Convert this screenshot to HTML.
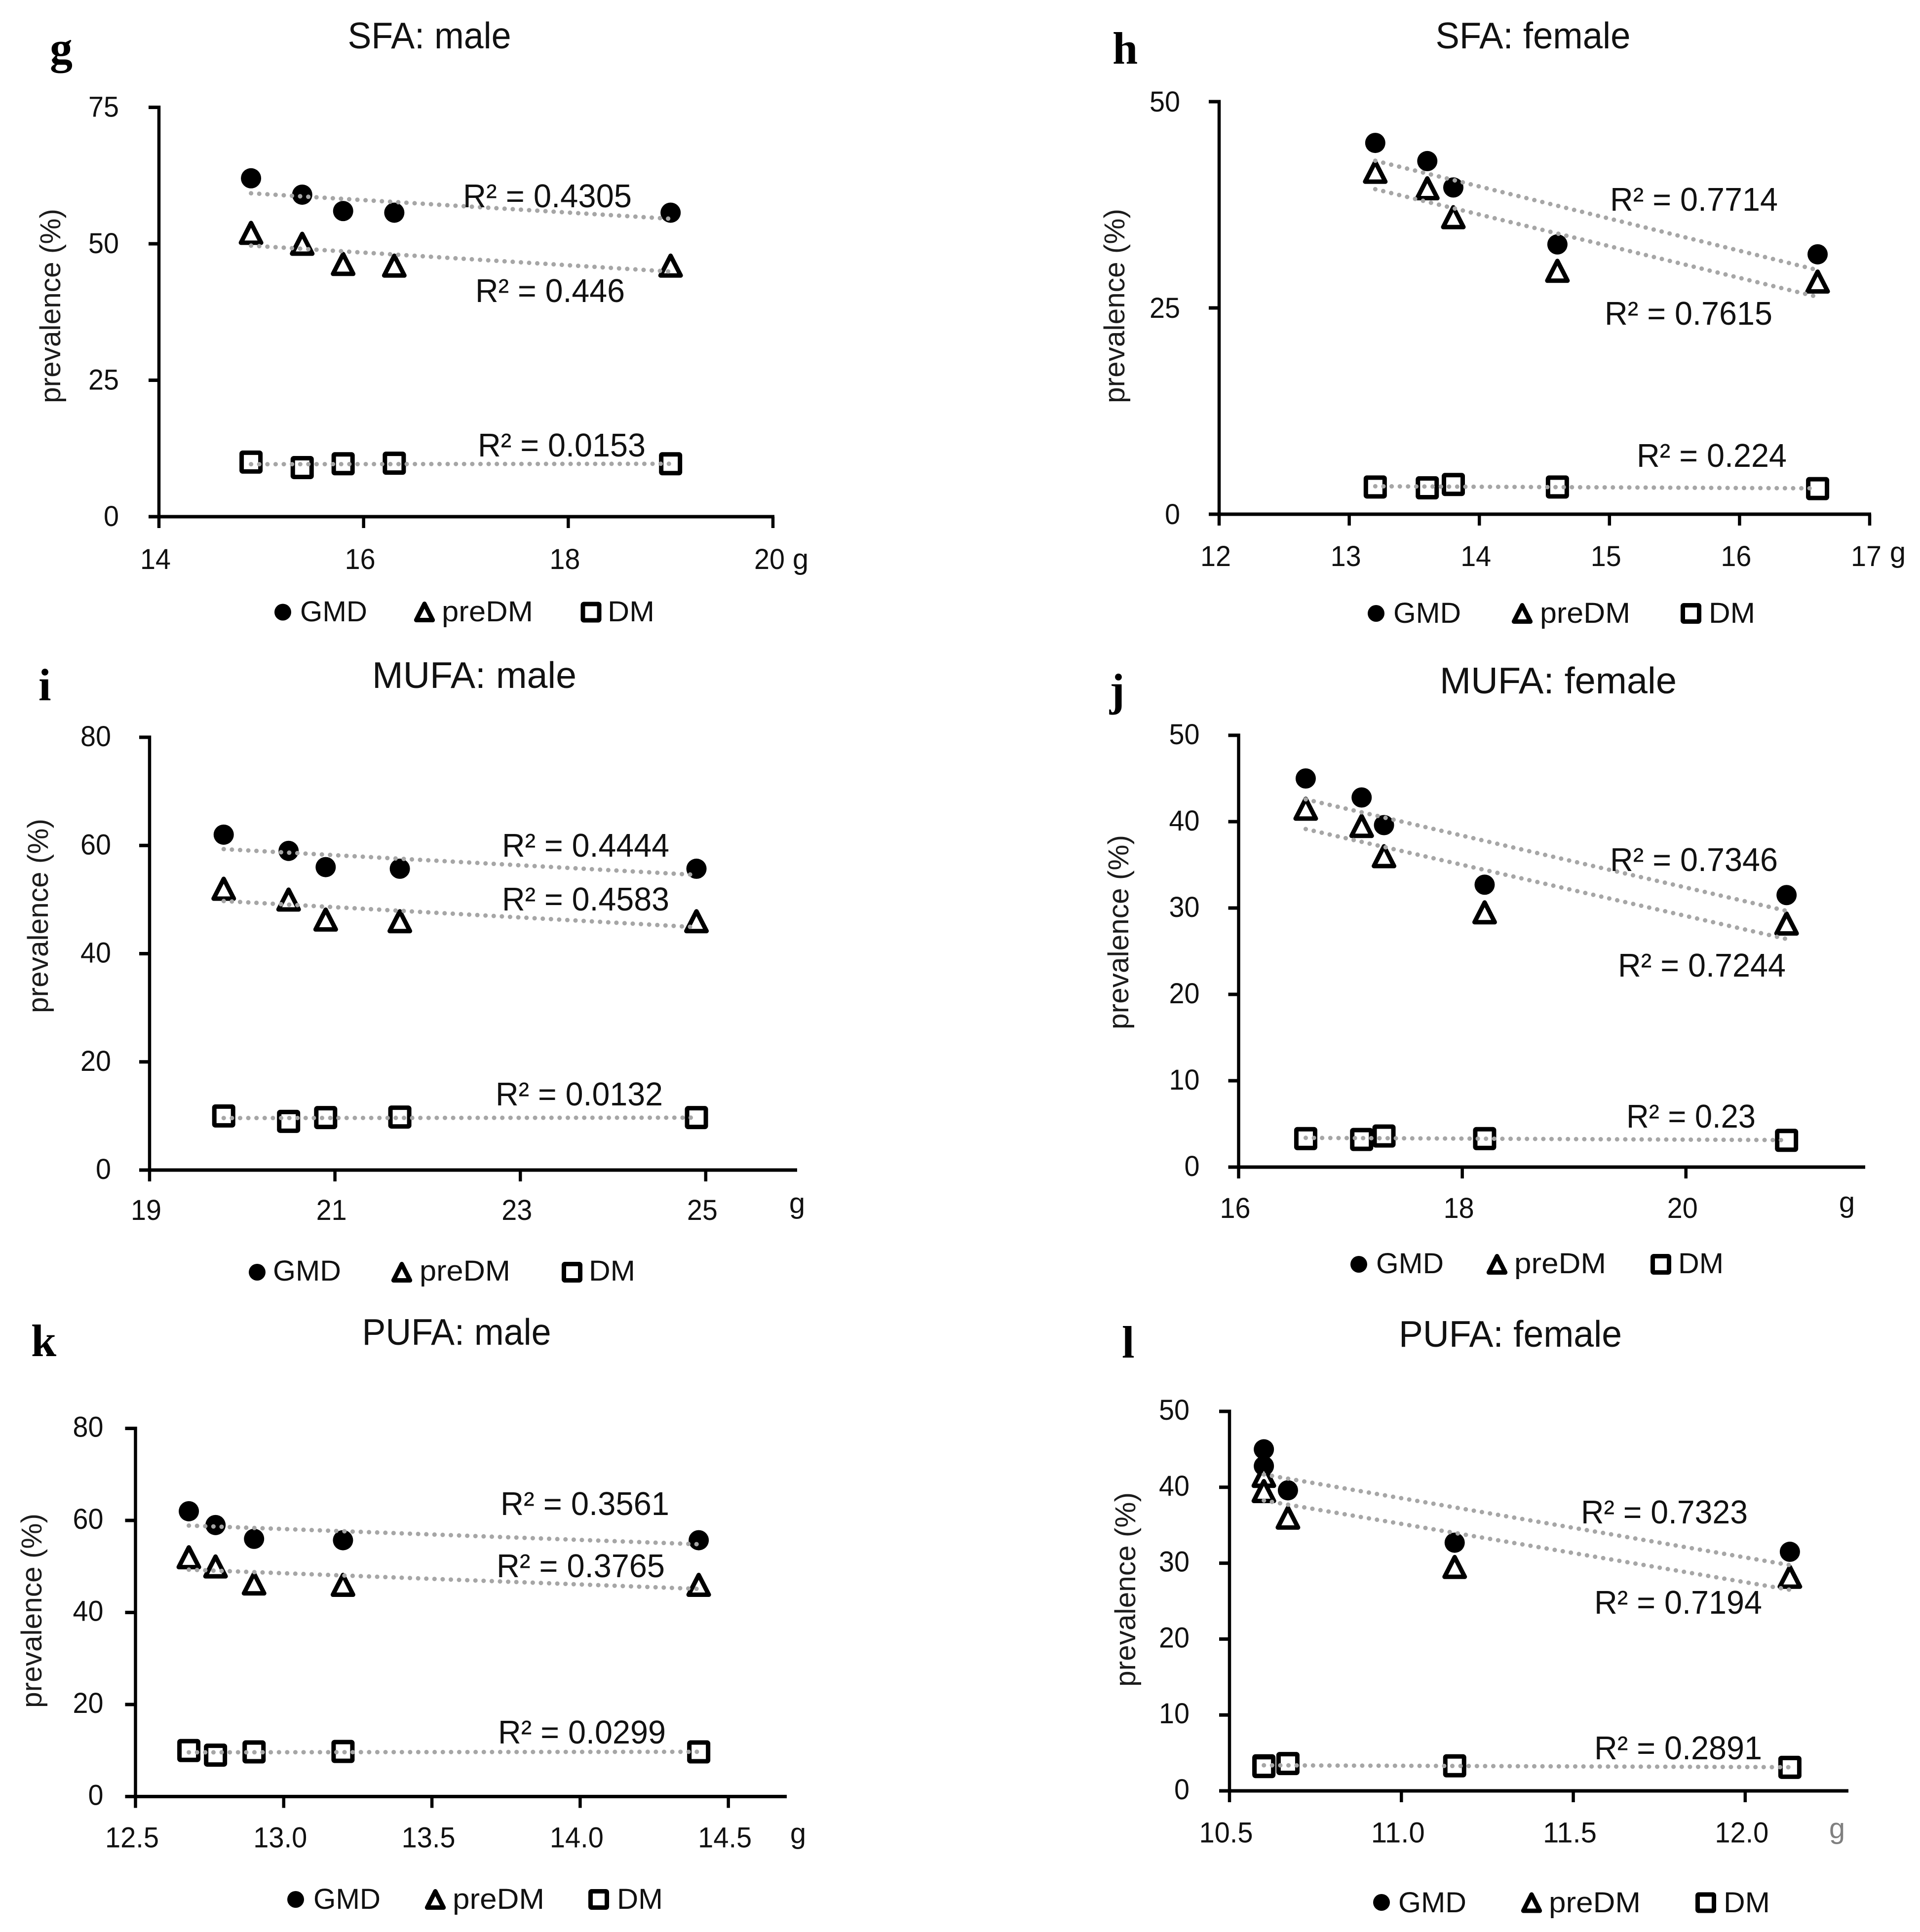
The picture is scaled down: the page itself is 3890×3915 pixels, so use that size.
<!DOCTYPE html>
<html lang="en">
<head>
<meta charset="utf-8">
<title>Prevalence vs fatty acid intake</title>
<style>
html,body{margin:0;padding:0;background:#fff;}
svg{display:block;}
text{font-family:"Liberation Sans",sans-serif;fill:#111;}
.title{font-size:75px;text-anchor:middle;}
.r2{font-size:67px;}
.leg{font-size:58px;}
.ylab{font-size:58px;text-anchor:middle;fill:#1c1c1c;}
.tick{font-size:58px;}
.unit{font-size:58px;text-anchor:middle;}
.letter{font-family:"Liberation Serif",serif;font-weight:bold;font-size:92px;fill:#000;}
.mk{fill:#fff;stroke:#000;stroke-width:9;stroke-linejoin:round;}
</style>
</head>
<body>
<svg id="fig" xmlns="http://www.w3.org/2000/svg" width="3890" height="3915" viewBox="0 0 3890 3915">
<rect width="3890" height="3915" fill="#fff"/>

<g id="panel-g">
  <g class="plot"></g>
  <text class="letter" x="101" y="128">g</text>
  <text class="title" x="870" y="98" textLength="331" lengthAdjust="spacingAndGlyphs">SFA: male</text>
  <text class="ylab" transform="translate(122,620) rotate(-90)" textLength="394" lengthAdjust="spacingAndGlyphs">prevalence (%)</text>
  <text class="unit" x="1622" y="1153">g</text>
  <text class="r2" x="938" y="420" textLength="342" lengthAdjust="spacingAndGlyphs">R² = 0.4305</text>
  <text class="r2" x="963" y="612" textLength="303" lengthAdjust="spacingAndGlyphs">R² = 0.446</text>
  <text class="r2" x="968" y="925" textLength="340" lengthAdjust="spacingAndGlyphs">R² = 0.0153</text>
  <circle cx="573" cy="1240.5" r="17" fill="#000"/>
  <text class="leg" x="608" y="1259" textLength="136" lengthAdjust="spacingAndGlyphs">GMD</text>
  <polygon class="mk" points="0,-16.5 16.7,16.5 -16.7,16.5" transform="translate(860,1240)"/>
  <text class="leg" x="895" y="1259" textLength="185" lengthAdjust="spacingAndGlyphs">preDM</text>
  <rect class="mk" x="1181" y="1224" width="33" height="33" rx="2"/>
  <text class="leg" x="1231" y="1259" textLength="95" lengthAdjust="spacingAndGlyphs">DM</text>
</g>

<g id="panel-h">
  <g class="plot"></g>
  <text class="letter" x="2254" y="129">h</text>
  <text class="title" x="3106" y="98" textLength="395" lengthAdjust="spacingAndGlyphs">SFA: female</text>
  <text class="ylab" transform="translate(2278,620) rotate(-90)" textLength="394" lengthAdjust="spacingAndGlyphs">prevalence (%)</text>
  <text class="unit" x="3845" y="1139">g</text>
  <text class="r2" x="3262" y="427" textLength="340" lengthAdjust="spacingAndGlyphs">R² = 0.7714</text>
  <text class="r2" x="3251" y="658" textLength="340" lengthAdjust="spacingAndGlyphs">R² = 0.7615</text>
  <text class="r2" x="3316" y="946" textLength="304" lengthAdjust="spacingAndGlyphs">R² = 0.224</text>
  <circle cx="2788" cy="1243" r="17" fill="#000"/>
  <text class="leg" x="2823" y="1262" textLength="137" lengthAdjust="spacingAndGlyphs">GMD</text>
  <polygon class="mk" points="0,-16.5 16.7,16.5 -16.7,16.5" transform="translate(3084,1243)"/>
  <text class="leg" x="3120" y="1262" textLength="183" lengthAdjust="spacingAndGlyphs">preDM</text>
  <rect class="mk" x="3409.5" y="1226.5" width="33" height="33" rx="2"/>
  <text class="leg" x="3462" y="1262" textLength="94" lengthAdjust="spacingAndGlyphs">DM</text>
</g>

<g id="panel-i">
  <g class="plot"></g>
  <text class="letter" x="78" y="1419">i</text>
  <text class="title" x="961" y="1394" textLength="414" lengthAdjust="spacingAndGlyphs">MUFA: male</text>
  <text class="ylab" transform="translate(97,1856) rotate(-90)" textLength="394" lengthAdjust="spacingAndGlyphs">prevalence (%)</text>
  <text class="unit" x="1615" y="2458">g</text>
  <text class="r2" x="1017" y="1736" textLength="339" lengthAdjust="spacingAndGlyphs">R² = 0.4444</text>
  <text class="r2" x="1017" y="1845" textLength="339" lengthAdjust="spacingAndGlyphs">R² = 0.4583</text>
  <text class="r2" x="1004" y="2240" textLength="339" lengthAdjust="spacingAndGlyphs">R² = 0.0132</text>
  <circle cx="521" cy="2578" r="17" fill="#000"/>
  <text class="leg" x="553" y="2595" textLength="138" lengthAdjust="spacingAndGlyphs">GMD</text>
  <polygon class="mk" points="0,-16.5 16.7,16.5 -16.7,16.5" transform="translate(814,2578)"/>
  <text class="leg" x="850" y="2595" textLength="184" lengthAdjust="spacingAndGlyphs">preDM</text>
  <rect class="mk" x="1142.5" y="2561.5" width="33" height="33" rx="2"/>
  <text class="leg" x="1193" y="2595" textLength="94" lengthAdjust="spacingAndGlyphs">DM</text>
</g>

<g id="panel-j">
  <g class="plot"></g>
  <text class="letter" x="2248" y="1429">j</text>
  <text class="title" x="3157" y="1405" textLength="480" lengthAdjust="spacingAndGlyphs">MUFA: female</text>
  <text class="ylab" transform="translate(2286,1889) rotate(-90)" textLength="394" lengthAdjust="spacingAndGlyphs">prevalence (%)</text>
  <text class="unit" x="3742" y="2456">g</text>
  <text class="r2" x="3262" y="1765" textLength="340" lengthAdjust="spacingAndGlyphs">R² = 0.7346</text>
  <text class="r2" x="3278" y="1979" textLength="340" lengthAdjust="spacingAndGlyphs">R² = 0.7244</text>
  <text class="r2" x="3295" y="2285" textLength="262" lengthAdjust="spacingAndGlyphs">R² = 0.23</text>
  <circle cx="2753" cy="2562" r="17" fill="#000"/>
  <text class="leg" x="2788" y="2580" textLength="137" lengthAdjust="spacingAndGlyphs">GMD</text>
  <polygon class="mk" points="0,-16.5 16.7,16.5 -16.7,16.5" transform="translate(3033,2562)"/>
  <text class="leg" x="3068" y="2580" textLength="186" lengthAdjust="spacingAndGlyphs">preDM</text>
  <rect class="mk" x="3348.5" y="2545.5" width="33" height="33" rx="2"/>
  <text class="leg" x="3400" y="2580" textLength="92" lengthAdjust="spacingAndGlyphs">DM</text>
</g>

<g id="panel-k">
  <g class="plot"></g>
  <text class="letter" x="63" y="2748">k</text>
  <text class="title" x="925" y="2725" textLength="383" lengthAdjust="spacingAndGlyphs">PUFA: male</text>
  <text class="ylab" transform="translate(84,3264) rotate(-90)" textLength="394" lengthAdjust="spacingAndGlyphs">prevalence (%)</text>
  <text class="unit" x="1617" y="3735">g</text>
  <text class="r2" x="1014" y="3070" textLength="342" lengthAdjust="spacingAndGlyphs">R² = 0.3561</text>
  <text class="r2" x="1006" y="3196" textLength="341" lengthAdjust="spacingAndGlyphs">R² = 0.3765</text>
  <text class="r2" x="1009" y="3533" textLength="340" lengthAdjust="spacingAndGlyphs">R² = 0.0299</text>
  <circle cx="599" cy="3849" r="17" fill="#000"/>
  <text class="leg" x="635" y="3868" textLength="136" lengthAdjust="spacingAndGlyphs">GMD</text>
  <polygon class="mk" points="0,-16.5 16.7,16.5 -16.7,16.5" transform="translate(882,3849)"/>
  <text class="leg" x="917" y="3868" textLength="186" lengthAdjust="spacingAndGlyphs">preDM</text>
  <rect class="mk" x="1196.5" y="3832.5" width="33" height="33" rx="2"/>
  <text class="leg" x="1250" y="3868" textLength="93" lengthAdjust="spacingAndGlyphs">DM</text>
</g>

<g id="panel-l">
  <g class="plot"></g>
  <text class="letter" x="2273" y="2751">l</text>
  <text class="title" x="3060" y="2729" textLength="452" lengthAdjust="spacingAndGlyphs">PUFA: female</text>
  <text class="ylab" transform="translate(2300,3221) rotate(-90)" textLength="394" lengthAdjust="spacingAndGlyphs">prevalence (%)</text>
  <text class="unit" x="3722" y="3725" style="fill:#808080">g</text>
  <text class="r2" x="3203" y="3087" textLength="338" lengthAdjust="spacingAndGlyphs">R² = 0.7323</text>
  <text class="r2" x="3230" y="3270" textLength="340" lengthAdjust="spacingAndGlyphs">R² = 0.7194</text>
  <text class="r2" x="3230" y="3565" textLength="340" lengthAdjust="spacingAndGlyphs">R² = 0.2891</text>
  <circle cx="2799" cy="3855" r="17" fill="#000"/>
  <text class="leg" x="2833" y="3875" textLength="138" lengthAdjust="spacingAndGlyphs">GMD</text>
  <polygon class="mk" points="0,-16.5 16.7,16.5 -16.7,16.5" transform="translate(3103,3855.5)"/>
  <text class="leg" x="3138" y="3875" textLength="186" lengthAdjust="spacingAndGlyphs">preDM</text>
  <rect class="mk" x="3439.5" y="3839" width="33" height="33" rx="2"/>
  <text class="leg" x="3492" y="3875" textLength="94" lengthAdjust="spacingAndGlyphs">DM</text>
</g>
</svg>

<script>
// Prevalence values (%)
const maleGMD = [62, 59, 56, 55.7, 55.7];
const malePreDM = [52, 50, 46.3, 46, 46];
const maleDM = [10, 9, 9.7, 9.8, 9.7];
const femaleGMD = [45, 42.8, 39.6, 32.7, 31.5];
const femalePreDM = [41.5, 39.5, 36, 29.5, 28.2];
const femaleDM = [3.3, 3.2, 3.6, 3.3, 3.1];

// Intake (g) for each panel
const sfaMaleGrams = [14.9, 15.4, 15.8, 16.3, 19.0];
const sfaFemaleGrams = [13.2, 13.6, 13.8, 14.6, 16.6];
const mufaMaleGrams = [19.8, 20.5, 20.9, 21.7, 24.9];
const mufaFemaleGrams = [16.6, 17.1, 17.3, 18.2, 20.9];
const pufaMaleGrams = [12.68, 12.77, 12.9, 13.2, 14.4];
const pufaFemaleGrams = [10.6, 10.6, 10.67, 11.155, 12.13];

// Tick labels
const sfaMaleXTicks = ['14', '16', '18', '20'];
const sfaFemaleXTicks = ['12', '13', '14', '15', '16', '17'];
const mufaMaleXTicks = ['19', '21', '23', '25'];
const mufaFemaleXTicks = ['16', '18', '20'];
const pufaMaleXTicks = ['12.5', '13.0', '13.5', '14.0', '14.5'];
const pufaFemaleXTicks = ['10.5', '11.0', '11.5', '12.0'];
const yTicks75 = ['0', '25', '50', '75'];
const yTicks50Wide = ['0', '25', '50'];
const yTicks80 = ['0', '20', '40', '60', '80'];
const yTicks50 = ['0', '10', '20', '30', '40', '50'];

const NS = 'http://www.w3.org/2000/svg';

function make(tag, attrs, parent) {
  const el = document.createElementNS(NS, tag);
  for (const k in attrs) el.setAttribute(k, attrs[k]);
  parent.appendChild(el);
  return el;
}

function labelWidth(label) {
  const digits = label.replace('.', '').length;
  const dots = label.length - digits;
  return digits * 31 + dots * 16;
}

function fitLine(xs, ys) {
  const n = xs.length;
  const mx = xs.reduce((a, b) => a + b, 0) / n;
  const my = ys.reduce((a, b) => a + b, 0) / n;
  let sxy = 0, sxx = 0;
  xs.forEach((x, i) => { sxy += (x - mx) * (ys[i] - my); sxx += (x - mx) * (x - mx); });
  const slope = sxy / sxx;
  return v => my + slope * (v - mx);
}

function drawPanel(cfg) {
  const plot = document.querySelector('#' + cfg.id + ' .plot');
  const xScale = v => cfg.left + (v - cfg.xMin) / (cfg.xMax - cfg.xMin) * (cfg.right - cfg.left);
  const yScale = v => cfg.bottom - (v - cfg.yMin) / (cfg.yMax - cfg.yMin) * (cfg.bottom - cfg.top);

  const yAxis = make('line', {x1: cfg.left, x2: cfg.left, y1: cfg.top - 3.5, y2: cfg.bottom + 3.5, stroke: '#000', 'stroke-width': 6.5}, plot);
  
  

  const xAxis = make('line', {x1: cfg.left - 21, x2: cfg.right + 3, y1: cfg.bottom, y2: cfg.bottom, stroke: '#000', 'stroke-width': 7}, plot);
  
  

  cfg.yLabels.forEach(label => {
    const v = parseFloat(label);
    const py = yScale(v);
    const tick = make('line', {x1: cfg.left - 21, x2: cfg.left, y1: py, y2: py, stroke: '#000', 'stroke-width': 7}, plot);
    
    
    const txt = make('text', {class: 'tick', x: cfg.left + cfg.yLabelDx, y: py + cfg.yLabelDy, 'text-anchor': 'end', textLength: labelWidth(label), lengthAdjust: 'spacingAndGlyphs'}, plot);
    txt.textContent = label;
    
    
  });

  cfg.xLabels.forEach(label => {
    const v = parseFloat(label);
    const px = xScale(v);
    const tick = make('line', {x1: px, x2: px, y1: cfg.bottom, y2: cfg.bottom + 23, stroke: '#000', 'stroke-width': 6.5}, plot);
    
    
    const txt = make('text', {class: 'tick', x: px - 7, y: cfg.xLabelY, 'text-anchor': 'middle', textLength: labelWidth(label), lengthAdjust: 'spacingAndGlyphs'}, plot);
    txt.textContent = label;
    
    
  });

  cfg.gmd.forEach((v, i) => {
    const c = make('circle', {cx: xScale(cfg.grams[i]), cy: yScale(v), r: 20.5, fill: '#000'}, plot);
    
    
  });

  cfg.preDM.forEach((v, i) => {
    const t = make('polygon', {class: 'mk', points: '0,-20 20.5,20 -20.5,20', transform: 'translate(' + xScale(cfg.grams[i]) + ',' + yScale(v) + ')'}, plot);
    
    
  });

  cfg.dm.forEach((v, i) => {
    const s = make('rect', {class: 'mk', x: xScale(cfg.grams[i]) - 19, y: yScale(v) - 19, width: 38, height: 38, rx: 2}, plot);
    
    
  });

  const xLo = Math.min(...cfg.grams);
  const xHi = Math.max(...cfg.grams);
  [cfg.gmd, cfg.preDM, cfg.dm].forEach(series => {
    const fit = fitLine(cfg.grams, series);
    const line = make('line', {
      x1: xScale(xLo), y1: yScale(fit(xLo)), x2: xScale(xHi), y2: yScale(fit(xHi)),
      stroke: '#a6a6a6', 'stroke-width': 9, 'stroke-linecap': 'round', 'stroke-dasharray': '0.1 16.5'
    }, plot);
    
    
  });
}

drawPanel({id: 'panel-g', grams: sfaMaleGrams, gmd: maleGMD, preDM: malePreDM, dm: maleDM, xLabels: sfaMaleXTicks, yLabels: yTicks75,
  xMin: 14, xMax: 20, yMin: 0, yMax: 75, left: 322, right: 1566, top: 217.5, bottom: 1047, yLabelDx: -81, yLabelDy: 19, xLabelY: 1153});
drawPanel({id: 'panel-h', grams: sfaFemaleGrams, gmd: femaleGMD, preDM: femalePreDM, dm: femaleDM, xLabels: sfaFemaleXTicks, yLabels: yTicks50Wide,
  xMin: 12, xMax: 17, yMin: 0, yMax: 50, left: 2470, right: 3788, top: 206, bottom: 1042, yLabelDx: -79, yLabelDy: 20, xLabelY: 1147});
drawPanel({id: 'panel-i', grams: mufaMaleGrams, gmd: maleGMD, preDM: malePreDM, dm: maleDM, xLabels: mufaMaleXTicks, yLabels: yTicks80,
  xMin: 19, xMax: 25.97, yMin: 0, yMax: 80, left: 303, right: 1612, top: 1494, bottom: 2371, yLabelDx: -78, yLabelDy: 18, xLabelY: 2472});
drawPanel({id: 'panel-j', grams: mufaFemaleGrams, gmd: femaleGMD, preDM: femalePreDM, dm: femaleDM, xLabels: mufaFemaleXTicks, yLabels: yTicks50,
  xMin: 16, xMax: 21.59, yMin: 0, yMax: 50, left: 2509.5, right: 3776, top: 1490, bottom: 2365, yLabelDx: -79, yLabelDy: 18, xLabelY: 2468});
drawPanel({id: 'panel-k', grams: pufaMaleGrams, gmd: maleGMD, preDM: malePreDM, dm: maleDM, xLabels: pufaMaleXTicks, yLabels: yTicks80,
  xMin: 12.5, xMax: 14.692, yMin: 0, yMax: 80, left: 274.5, right: 1591, top: 2894.5, bottom: 3640.5, yLabelDx: -65, yLabelDy: 17, xLabelY: 3743.5});
drawPanel({id: 'panel-l', grams: pufaFemaleGrams, gmd: femaleGMD, preDM: femalePreDM, dm: femaleDM, xLabels: pufaFemaleXTicks, yLabels: yTicks50,
  xMin: 10.5, xMax: 12.296, yMin: 0, yMax: 50, left: 2491, right: 3742, top: 2860, bottom: 3629, yLabelDx: -81, yLabelDy: 17, xLabelY: 3733.5});
</script>
</body>
</html>
